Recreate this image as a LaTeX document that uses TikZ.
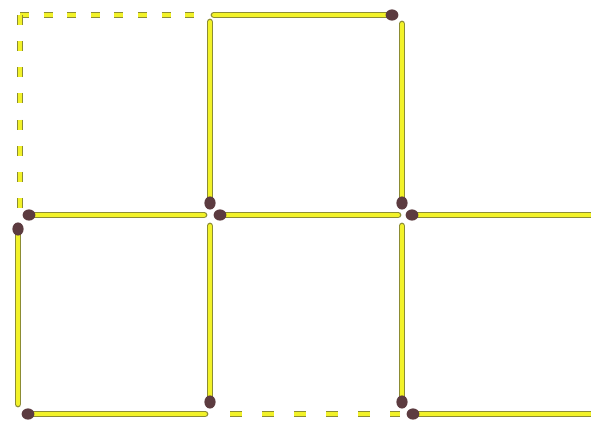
\documentclass[tikz,border=0pt]{standalone}
\usepackage{xcolor}
\definecolor{colormatch}{rgb}{0.95,0.95,0.16}
\definecolor{coloredge}{rgb}{0.55,0.55,0.2}
\definecolor{colorhead}{rgb}{0.36,0.23,0.25}
\usepackage{tikz}

\begin{document}
\begin{tikzpicture}[
  match/.style={line width=0.035cm,draw=coloredge,double=colormatch,double distance=0.1cm,line cap=round},
  gone/.style={match,line cap=butt,dash pattern=on 0.225cm off 0.365cm},
  head/.style={fill=colorhead}]
\useasboundingbox (0,0) rectangle (14.775,10.55);

% Removed matches (dashed)
\draw[gone] (0.5,10.175) -- (4.9,10.175);
\draw[gone,dash pattern=on 0.25cm off 0.404cm] (0.5,10.175) -- (0.5,5.35);
\draw[gone,dash pattern=on 0.3cm off 0.5cm] (5.75,0.2) -- (10.0,0.2);

% Top square
\draw[match] (5.35,10.175) -- (9.75,10.175);
\fill[head] (9.8,10.175) ellipse (0.16cm and 0.14cm);
\draw[match] (5.25,10.0) -- (5.25,5.5);
\fill[head] (5.25,5.475) ellipse (0.14cm and 0.165cm);
\draw[match] (10.05,9.95) -- (10.05,5.5);
\fill[head] (10.05,5.475) ellipse (0.14cm and 0.165cm);

% Middle row
\draw[match] (0.75,5.175) -- (5.1,5.175);
\fill[head] (0.725,5.175) ellipse (0.16cm and 0.14cm);
\draw[match] (5.55,5.175) -- (9.95,5.175);
\fill[head] (5.5,5.175) ellipse (0.16cm and 0.14cm);
\draw[match] (10.35,5.175) -- (14.85,5.175);
\fill[head] (10.3,5.175) ellipse (0.16cm and 0.14cm);

% Bottom squares, upright matches
\draw[match] (0.45,4.85) -- (0.45,0.45);
\fill[head] (0.45,4.825) ellipse (0.14cm and 0.165cm);
\draw[match] (5.25,4.9) -- (5.25,0.55);
\fill[head] (5.25,0.5) ellipse (0.14cm and 0.165cm);
\draw[match] (10.05,4.9) -- (10.05,0.55);
\fill[head] (10.05,0.5) ellipse (0.14cm and 0.165cm);

% Bottom row
\draw[match] (0.75,0.2) -- (5.125,0.2);
\fill[head] (0.7,0.2) ellipse (0.16cm and 0.14cm);
\draw[match] (10.35,0.2) -- (14.85,0.2);
\fill[head] (10.325,0.2) ellipse (0.16cm and 0.14cm);

\end{tikzpicture}
\end{document}
